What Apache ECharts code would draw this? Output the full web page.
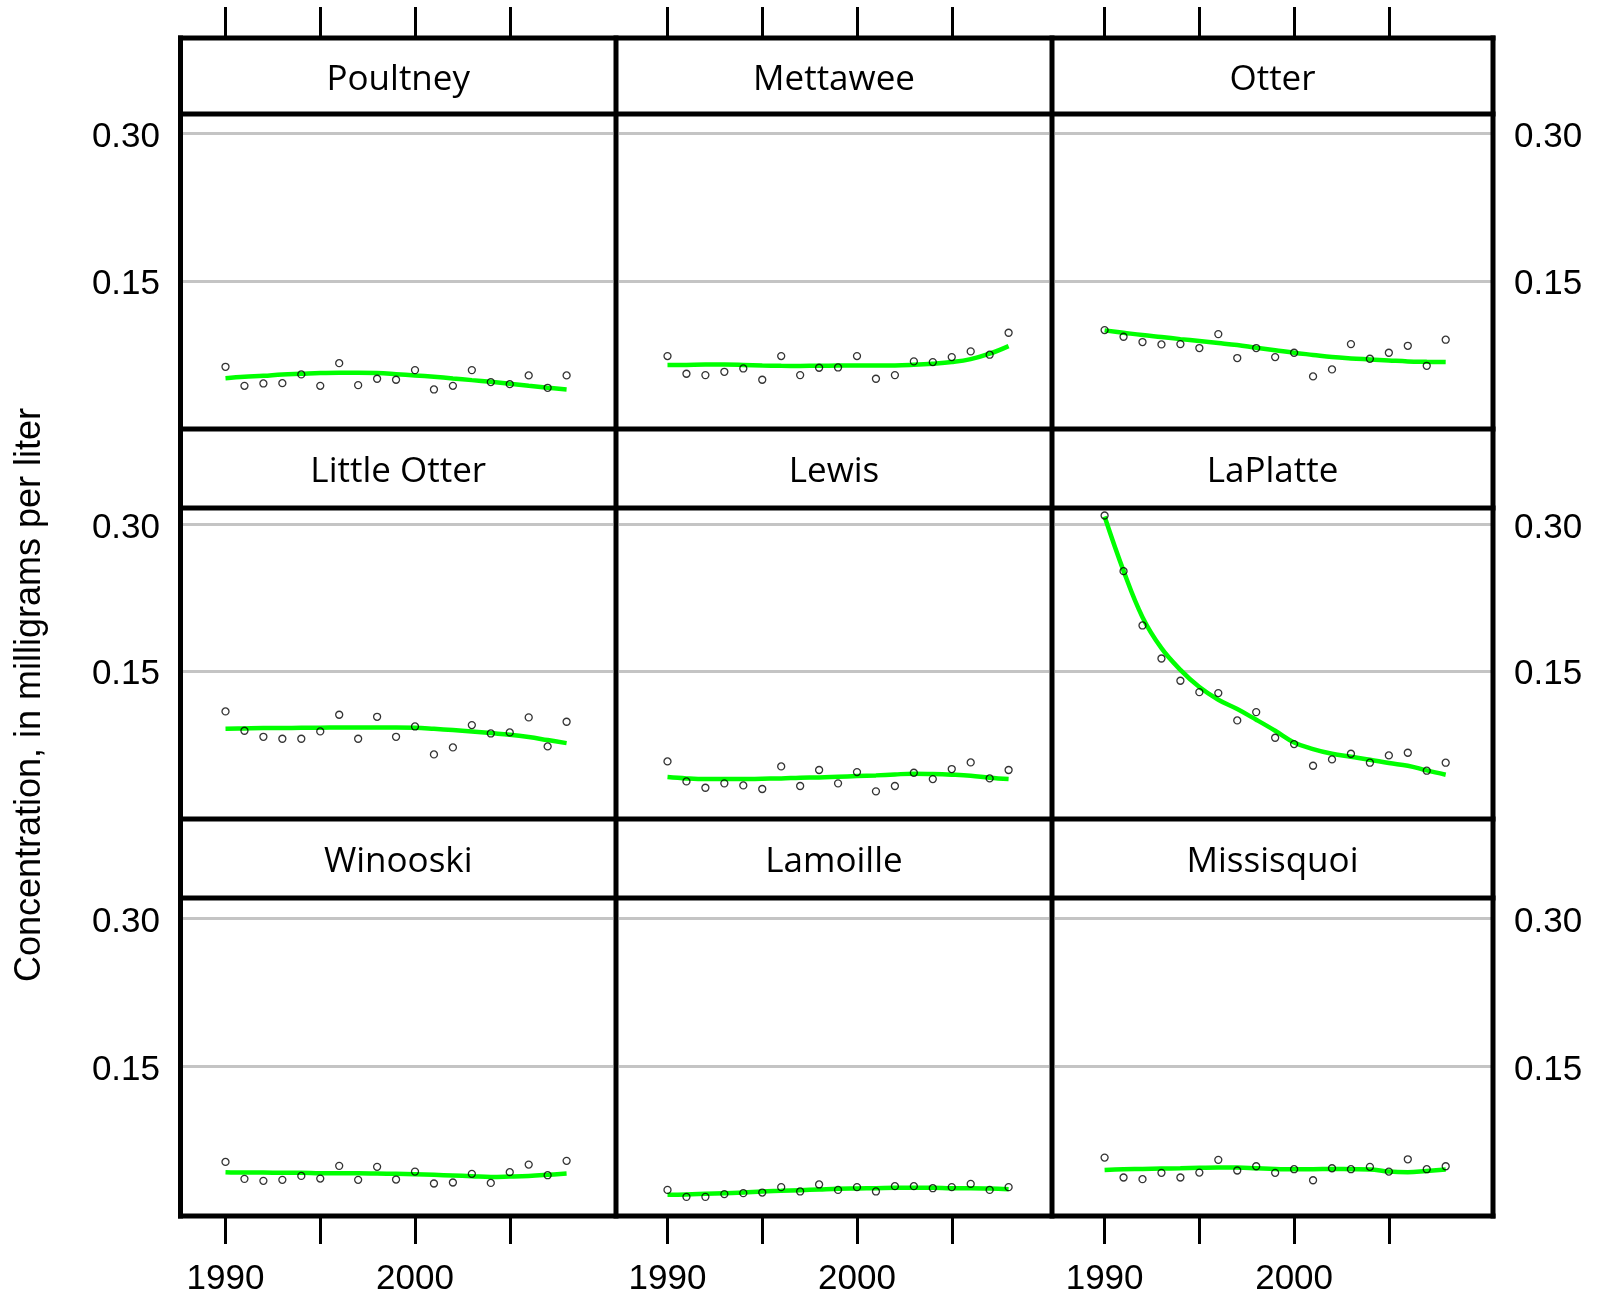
<!DOCTYPE html>
<html>
<head>
<meta charset="utf-8">
<title>Total phosphorus concentration trends, Lake Champlain tributaries</title>
<script src="https://cdn.jsdelivr.net/npm/echarts@6/dist/echarts.min.js"></script>
<style>
  html, body { margin: 0; padding: 0; background: #ffffff; }
  #chart { width: 1600px; height: 1295px; }
</style>
</head>
<body>
<div id="chart"></div>
<script>
// ---- Data -------------------------------------------------------------
const years = [1990, 1991, 1992, 1993, 1994, 1995, 1996, 1997, 1998, 1999,
               2000, 2001, 2002, 2003, 2004, 2005, 2006, 2007, 2008];

const rivers = ['Poultney', 'Mettawee', 'Otter',
                'Little Otter', 'Lewis', 'LaPlatte',
                'Winooski', 'Lamoille', 'Missisquoi'];

// Annual concentrations (mg/L) and smoothed trend (mg/L) for each river
const poultneyObs   = [0.0624, 0.0430, 0.0454, 0.0457, 0.0546, 0.0430, 0.0661, 0.0437, 0.0502, 0.0492, 0.0590, 0.0393, 0.0430, 0.0590, 0.0468, 0.0447, 0.0536, 0.0410, 0.0536];
const poultneyTrend = [0.0508, 0.0522, 0.0532, 0.0546, 0.0553, 0.0560, 0.0563, 0.0563, 0.0560, 0.0549, 0.0536, 0.0522, 0.0505, 0.0488, 0.0471, 0.0451, 0.0430, 0.0410, 0.0393];

const mettaweeObs   = [0.0733, 0.0553, 0.0539, 0.0573, 0.0607, 0.0492, 0.0733, 0.0539, 0.0614, 0.0617, 0.0733, 0.0502, 0.0539, 0.0679, 0.0672, 0.0723, 0.0781, 0.0747, 0.0971];
const mettaweeTrend = [0.0641, 0.0643, 0.0646, 0.0646, 0.0643, 0.0638, 0.0634, 0.0633, 0.0634, 0.0636, 0.0638, 0.0638, 0.0638, 0.0644, 0.0655, 0.0672, 0.0702, 0.0757, 0.0835];

const otterObs   = [0.0998, 0.0930, 0.0876, 0.0852, 0.0855, 0.0815, 0.0957, 0.0713, 0.0815, 0.0723, 0.0767, 0.0526, 0.0597, 0.0855, 0.0706, 0.0767, 0.0838, 0.0634, 0.0900];
const otterTrend = [0.0995, 0.0971, 0.0947, 0.0927, 0.0906, 0.0886, 0.0866, 0.0845, 0.0818, 0.0793, 0.0767, 0.0745, 0.0723, 0.0709, 0.0699, 0.0689, 0.0679, 0.0675, 0.0672];

const littleOtterObs   = [0.1083, 0.0885, 0.0823, 0.0803, 0.0803, 0.0878, 0.1049, 0.0803, 0.1028, 0.0823, 0.0929, 0.0642, 0.0714, 0.0943, 0.0857, 0.0868, 0.1022, 0.0724, 0.0977];
const littleOtterTrend = [0.0905, 0.0909, 0.0912, 0.0912, 0.0916, 0.0916, 0.0919, 0.0919, 0.0919, 0.0919, 0.0916, 0.0905, 0.0892, 0.0878, 0.0861, 0.0844, 0.0820, 0.0789, 0.0758];

const lewisObs   = [0.0570, 0.0365, 0.0300, 0.0345, 0.0324, 0.0287, 0.0519, 0.0318, 0.0482, 0.0345, 0.0461, 0.0263, 0.0318, 0.0454, 0.0389, 0.0492, 0.0560, 0.0396, 0.0482];
const lewisTrend = [0.0410, 0.0396, 0.0389, 0.0389, 0.0389, 0.0393, 0.0396, 0.0403, 0.0406, 0.0413, 0.0420, 0.0427, 0.0437, 0.0444, 0.0441, 0.0434, 0.0423, 0.0403, 0.0389];

const laPlatteObs   = [0.3093, 0.2522, 0.1965, 0.1626, 0.1398, 0.1281, 0.1271, 0.0991, 0.1076, 0.0813, 0.0748, 0.0526, 0.0591, 0.0649, 0.0557, 0.0632, 0.0659, 0.0475, 0.0557];
const laPlatteTrend = [0.3082, 0.2525, 0.2050, 0.1732, 0.1510, 0.1333, 0.1203, 0.1107, 0.0998, 0.0885, 0.0765, 0.0697, 0.0649, 0.0618, 0.0588, 0.0553, 0.0526, 0.0478, 0.0434];

const winooskiObs   = [0.0529, 0.0357, 0.0337, 0.0347, 0.0387, 0.0360, 0.0489, 0.0347, 0.0479, 0.0350, 0.0431, 0.0310, 0.0320, 0.0408, 0.0316, 0.0425, 0.0502, 0.0394, 0.0540];
const winooskiTrend = [0.0425, 0.0421, 0.0421, 0.0418, 0.0418, 0.0414, 0.0414, 0.0414, 0.0411, 0.0408, 0.0404, 0.0398, 0.0391, 0.0384, 0.0377, 0.0381, 0.0387, 0.0398, 0.0411];

const lamoilleObs   = [0.0245, 0.0174, 0.0174, 0.0202, 0.0212, 0.0218, 0.0273, 0.0229, 0.0300, 0.0245, 0.0273, 0.0229, 0.0283, 0.0283, 0.0262, 0.0273, 0.0306, 0.0245, 0.0273];
const lamoilleTrend = [0.0195, 0.0198, 0.0205, 0.0212, 0.0218, 0.0229, 0.0235, 0.0242, 0.0249, 0.0256, 0.0259, 0.0262, 0.0266, 0.0266, 0.0266, 0.0262, 0.0262, 0.0259, 0.0252];

const missisquoiObs   = [0.0573, 0.0371, 0.0354, 0.0418, 0.0371, 0.0421, 0.0550, 0.0442, 0.0485, 0.0418, 0.0455, 0.0343, 0.0465, 0.0455, 0.0479, 0.0431, 0.0556, 0.0455, 0.0485];
const missisquoiTrend = [0.0448, 0.0455, 0.0458, 0.0462, 0.0465, 0.0469, 0.0472, 0.0472, 0.0465, 0.0458, 0.0455, 0.0455, 0.0458, 0.0455, 0.0452, 0.0431, 0.0425, 0.0438, 0.0452];

// Axis ticks and labels
const yTickValues = [0.15, 0.30];
const xTickValues = [1990, 1995, 2000, 2005];
const xLabelValues = [1990, 2000];
const yAxisTitle = 'Concentration, in milligrams per liter';

const observed = [poultneyObs, mettaweeObs, otterObs, littleOtterObs, lewisObs,
                  laPlatteObs, winooskiObs, lamoilleObs, missisquoiObs];
const trends = [poultneyTrend, mettaweeTrend, otterTrend, littleOtterTrend, lewisTrend,
                laPlatteTrend, winooskiTrend, lamoilleTrend, missisquoiTrend];

// ---- Layout (pixels) --------------------------------------------------
const PX_PER_YEAR = 18.95;
const colLeft  = [183, 619, 1055];
const colWidth = [430, 430, 436];
const colX1990 = [225.5, 667.5, 1104.6];   // where 1990 sits in each column
const rowTop    = [117, 508, 902];
const rowHeight = [311, 309, 312];
const Y_MAX = 0.317;

const frameX = [180.5, 616, 1052, 1493];
const frameY = [38, 114, 429, 508, 819, 898, 1216];
const stripCenterY = [80, 472, 862];

const tickFont = 'Liberation Sans';
const stripFont = 'Open Sans';

const grids = [], xAxes = [], yAxes = [], series = [];

function yearRange(c) {
  const min = 1990 - (colX1990[c] - colLeft[c]) / PX_PER_YEAR;
  return [min, min + colWidth[c] / PX_PER_YEAR];
}

const tickStyle = { color: '#000', width: 3 };

rivers.forEach((name, i) => {
  const r = Math.floor(i / 3), c = i % 3;
  const [xMin, xMax] = yearRange(c);

  grids.push({
    left: colLeft[c], top: rowTop[r], width: colWidth[c], height: rowHeight[r],
    containLabel: false, outerBoundsMode: 'none', show: false
  });

  const isBottom = r === 2;
  xAxes.push({
    type: 'value', gridIndex: i, min: xMin, max: xMax,
    position: 'bottom', offset: 4,
    axisLine: { show: false },
    axisTick: {
      show: isBottom, inside: false, length: 30,
      customValues: xTickValues, lineStyle: tickStyle
    },
    axisLabel: {
      show: isBottom, customValues: xLabelValues, margin: 44,
      formatter: v => String(v),
      fontFamily: tickFont, fontSize: 35, color: '#000'
    },
    splitLine: { show: false }
  });

  yAxes.push({
    type: 'value', gridIndex: i, min: 0, max: Y_MAX,
    position: c === 2 ? 'right' : 'left',
    axisLine: { show: false },
    axisTick: { show: false, customValues: yTickValues },
    axisLabel: {
      show: c !== 1, customValues: yTickValues, margin: 23,
      verticalAlign: 'top', lineHeight: 8,
      formatter: v => v.toFixed(2),
      fontFamily: tickFont, fontSize: 35, color: '#000'
    },
    splitLine: { show: true, lineStyle: { color: '#c4c4c4', width: 3 } }
  });

  series.push({
    name: name + ' trend', type: 'line', xAxisIndex: i, yAxisIndex: i,
    data: years.map((y, k) => [y, trends[i][k]]),
    smooth: 0.4, showSymbol: false, silent: true, z: 2,
    lineStyle: { color: '#00ff00', width: 4.5 }
  });
  series.push({
    name: name, type: 'scatter', xAxisIndex: i, yAxisIndex: i,
    data: years.map((y, k) => [y, observed[i][k]]),
    symbol: 'circle', symbolSize: 7, z: 3,
    itemStyle: { color: 'rgba(0,0,0,0)', borderColor: '#000', borderWidth: 1.3 }
  });
});

// Thin strips above the top row carrying the upper tick marks
for (let c = 0; c < 3; c++) {
  const [xMin, xMax] = yearRange(c);
  const gi = grids.length;
  grids.push({
    left: colLeft[c], top: 7, width: colWidth[c], height: 29,
    containLabel: false, outerBoundsMode: 'none', show: false
  });
  xAxes.push({
    type: 'value', gridIndex: gi, min: xMin, max: xMax, position: 'bottom',
    axisLine: { show: false },
    axisTick: { show: true, inside: true, length: 29, customValues: xTickValues, lineStyle: tickStyle },
    axisLabel: { show: false },
    splitLine: { show: false }
  });
  yAxes.push({ type: 'value', gridIndex: gi, min: 0, max: 1, show: false });
}

// Panel frames, strip titles and the shared y-axis title
const graphics = [];
frameY.forEach(y => graphics.push({
  type: 'line', z: 100, silent: true,
  shape: { x1: frameX[0] - 2.5, y1: y, x2: frameX[3] + 2.5, y2: y },
  style: { stroke: '#000', lineWidth: 5 }
}));
frameX.forEach(x => graphics.push({
  type: 'line', z: 100, silent: true,
  shape: { x1: x, y1: frameY[0] - 2.5, x2: x, y2: frameY[frameY.length - 1] + 2.5 },
  style: { stroke: '#000', lineWidth: 5 }
}));
rivers.forEach((name, i) => {
  const r = Math.floor(i / 3), c = i % 3;
  graphics.push({
    type: 'text', z: 101, silent: true,
    x: (frameX[c] + frameX[c + 1]) / 2, y: stripCenterY[r],
    style: {
      text: name, fill: '#000', align: 'center', verticalAlign: 'middle',
      font: '35px "' + stripFont + '"'
    }
  });
});
graphics.push({
  type: 'text', z: 101, silent: true,
  x: 30, y: 695, rotation: Math.PI / 2,
  style: {
    text: yAxisTitle, fill: '#000', align: 'center', verticalAlign: 'middle',
    font: '36px "' + tickFont + '"'
  }
});

const chart = echarts.init(document.getElementById('chart'), null, { renderer: 'canvas' });
chart.setOption({
  animation: false,
  backgroundColor: '#ffffff',
  grid: grids,
  xAxis: xAxes,
  yAxis: yAxes,
  series: series,
  graphic: graphics
});
</script>
</body>
</html>
